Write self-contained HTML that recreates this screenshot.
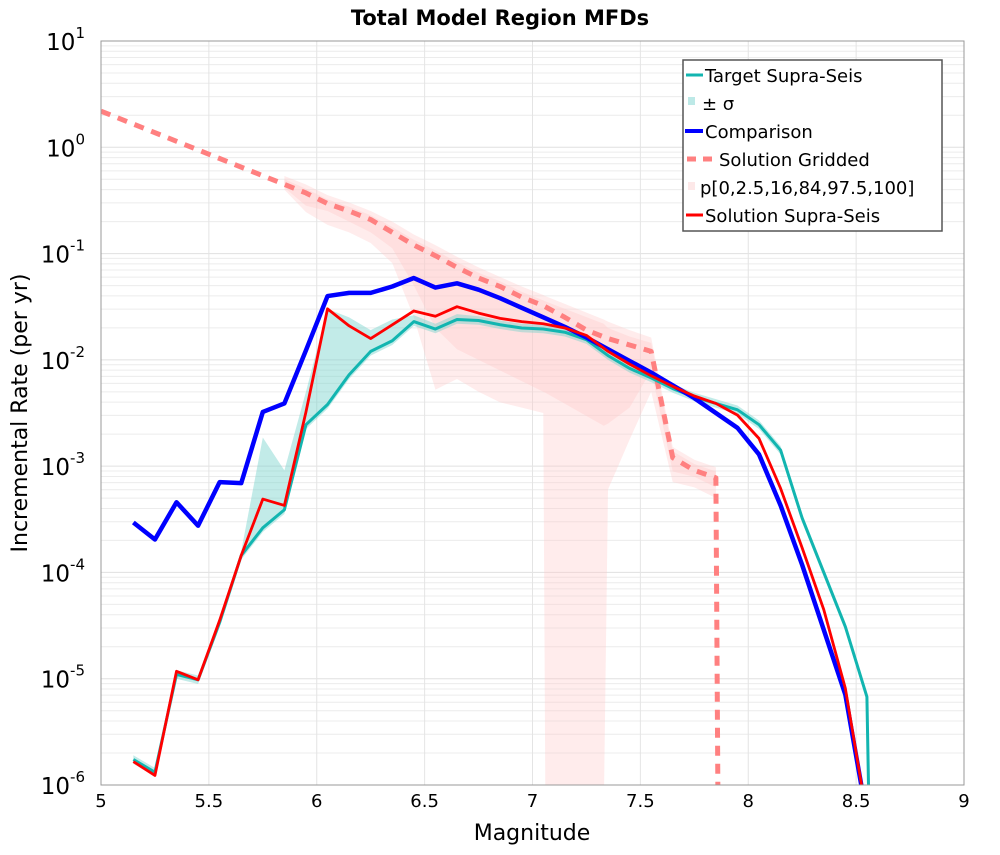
<!DOCTYPE html>
<html><head><meta charset="utf-8"><style>
body{margin:0;background:#fff;}
svg text{font-family:"DejaVu Sans","Liberation Sans",sans-serif;}
</style></head><body>
<svg id="chart" width="1000" height="850" xmlns="http://www.w3.org/2000/svg">
<rect width="1000" height="850" fill="#fff"/>
<text x="500" y="25" text-anchor="middle" font-size="21" font-weight="bold">Total Model Region MFDs</text>
<g id="grid"></g>
<g id="bands"></g>
<g id="lines"></g>
<rect x="101" y="41" width="863" height="744" fill="none" stroke="#999" stroke-width="1"/>
<g id="axes"></g>
<text x="532" y="840" text-anchor="middle" font-size="22">Magnitude</text>
<text transform="translate(27,413) rotate(-90)" text-anchor="middle" font-size="22">Incremental Rate (per yr)</text>
<g>
<rect x="683" y="60" width="259" height="171" fill="#fff" stroke="#555" stroke-width="1.5"/>
<g font-size="18">
<g><line x1="686" y1="75" x2="703" y2="75" stroke="#12b5b0" stroke-width="3"/><text x="705" y="82">Target Supra-Seis</text></g>
<g><rect x="688" y="97" width="7" height="8" fill="#bde9e7"/><text x="702" y="110">± σ</text></g>
<g><line x1="685" y1="131" x2="703" y2="131" stroke="#0000ff" stroke-width="4"/><text x="705" y="138">Comparison</text></g>
<g><line x1="687" y1="159" x2="715" y2="159" stroke="#ff8080" stroke-width="5" stroke-dasharray="9,7"/><text x="719" y="166">Solution Gridded</text></g>
<g><rect x="688" y="182" width="7" height="8" fill="#fde8e8"/><text x="700" y="194">p[0,2.5,16,84,97.5,100]</text></g>
<g><line x1="686" y1="215" x2="703" y2="215" stroke="#ff0000" stroke-width="3"/><text x="705" y="222">Solution Supra-Seis</text></g>
</g></g>
</svg>
<script>
const mags=[5.15,5.25,5.35,5.45,5.55,5.65,5.75,5.85,5.95,6.05,6.15,6.25,6.35,6.45,6.55,6.65,6.75,6.85,6.95,7.05,7.15,7.25,7.35,7.45,7.55,7.65,7.75,7.85,7.95,8.05,8.15,8.25,8.35,8.45,8.55];
const comparison=[-3.53,-3.69,-3.34,-3.56,-3.15,-3.16,-2.49,-2.41,-1.91,-1.40,-1.37,-1.37,-1.31,-1.23,-1.32,-1.28,-1.34,-1.42,-1.51,-1.60,-1.69,-1.79,-1.90,-2.01,-2.12,-2.24,-2.36,-2.50,-2.64,-2.89,-3.37,-3.93,-4.54,-5.15,-7];
const solution=[-5.78,-5.91,-4.93,-5.01,-4.45,-3.84,-3.31,-3.37,-2.49,-1.52,-1.68,-1.80,-1.67,-1.54,-1.59,-1.50,-1.56,-1.61,-1.64,-1.66,-1.70,-1.77,-1.92,-2.04,-2.15,-2.25,-2.34,-2.41,-2.52,-2.74,-3.21,-3.77,-4.35,-5.09,-7];
const target=[-5.76,-5.88,-4.96,-5.01,-4.47,-3.84,-3.58,-3.41,-2.61,-2.42,-2.14,-1.92,-1.82,-1.64,-1.71,-1.62,-1.63,-1.67,-1.70,-1.71,-1.74,-1.81,-1.96,-2.08,-2.17,-2.27,-2.35,-2.41,-2.47,-2.61,-2.85,-3.49,-4.00,-4.51,-5.17];
const sigmaHi=[-5.72,-5.84,-4.92,-4.97,-4.43,-3.80,-2.73,-3.04,-2.30,-1.52,-1.60,-1.72,-1.62,-1.58,-1.66,-1.57,-1.59,-1.63,-1.66,-1.67,-1.70,-1.77,-1.92,-2.04,-2.13,-2.23,-2.31,-2.37,-2.43,-2.57,-2.81,-3.45,-3.96,-4.47,-5.13];
const sigmaLo=[-5.80,-5.92,-5.00,-5.05,-4.51,-3.88,-3.62,-3.45,-2.65,-2.46,-2.18,-1.96,-1.86,-1.68,-1.75,-1.66,-1.67,-1.71,-1.74,-1.75,-1.78,-1.85,-2.00,-2.12,-2.21,-2.31,-2.39,-2.45,-2.51,-2.65,-2.89,-3.53,-4.04,-4.55,-5.21];
const gridMags=[5.0,5.95,6.05,6.15,6.25,6.35,6.45,6.55,6.65,6.75,6.85,6.95,7.05,7.15,7.25,7.35,7.45,7.55,7.65,7.75,7.85,7.86];
const gridded=[0.34,-0.43,-0.53,-0.60,-0.68,-0.80,-0.92,-1.02,-1.13,-1.23,-1.31,-1.41,-1.49,-1.60,-1.72,-1.80,-1.86,-1.92,-2.92,-3.04,-3.11,-7];
const pMags=[5.85,5.95,6.05,6.15,6.25,6.35,6.45,6.55,6.65,6.75,6.85,6.95,7.05,7.06,7.33,7.35,7.45,7.55,7.65,7.75,7.85];
const pMax=[-0.27,-0.35,-0.45,-0.52,-0.60,-0.70,-0.82,-0.92,-1.03,-1.13,-1.22,-1.31,-1.39,-1.40,-1.62,-1.64,-1.72,-1.79,-2.82,-2.94,-3.01];
const pMin=[-0.40,-0.61,-0.73,-0.80,-0.90,-1.09,-1.60,-2.28,-2.18,-2.30,-2.40,-2.45,-2.50,-7,-7,-3.22,-2.75,-2.30,-3.15,-3.20,-3.30];
const p97=[-0.30,-0.39,-0.49,-0.56,-0.64,-0.75,-0.87,-0.97,-1.08,-1.18,-1.26,-1.36,-1.44,-1.45,-1.66,-1.70,-1.78,-1.84,-2.86,-2.98,-3.05];
const p2=[-0.38,-0.55,-0.60,-0.70,-0.80,-0.95,-1.30,-1.70,-1.90,-2.00,-2.10,-2.20,-2.30,-2.31,-2.62,-2.60,-2.45,-2.10,-3.05,-3.10,-3.20];
const xTicks=[5,5.5,6,6.5,7,7.5,8,8.5,9];
const xTickLabels=["5","5.5","6","6.5","7","7.5","8","8.5","9"];
const yExps=[1,0,-1,-2,-3,-4,-5,-6];

const X0=101,X1=964,Y0=41,Y1=785;
const xs=m=>X0+(m-5)/4*(X1-X0);
const ys=v=>Y0+(1-Math.max(v,-6.3))/7*(Y1-Y0);
const NS="http://www.w3.org/2000/svg";
function mk(tag,attrs,parent){const e=document.createElementNS(NS,tag);for(const k in attrs)e.setAttribute(k,attrs[k]);parent.appendChild(e);return e;}
const grid=document.getElementById('grid'),bands=document.getElementById('bands'),lines=document.getElementById('lines'),axes=document.getElementById('axes');
const clip=mk('clipPath',{id:'pc'},document.getElementById('chart'));
mk('rect',{x:X0,y:Y0,width:X1-X0,height:Y1-Y0},clip);
bands.setAttribute('clip-path','url(#pc)');lines.setAttribute('clip-path','url(#pc)');
for(let e=-6;e<1;e++){for(let k=1;k<10;k++){const y=ys(e+Math.log10(k));
const l=mk('line',{x1:X0,x2:X1,y1:y,y2:y,stroke:k==1?'#e0e0e0':'#ececec','stroke-width':1},grid);

}}
xTicks.forEach((t,i)=>{const x=xs(t);
const l=mk('line',{x1:x,x2:x,y1:Y0,y2:Y1,stroke:'#e4e4e4','stroke-width':1},grid);


const tx=mk('text',{x:x,y:Y1+22,'text-anchor':'middle','font-size':18},axes);tx.textContent=xTickLabels[i];

});
yExps.forEach(e=>{const y=ys(e);
const tx=mk('text',{x:85,y:y+9,'text-anchor':'end','font-size':23},axes);


tx.appendChild(document.createTextNode('10'));
const s=mk('tspan',{dy:-12,'font-size':15},tx);s.textContent=String(e);});
function band(mx,hi,lo,fill,name){let d='';mx.forEach((m,i)=>d+=(i?'L':'M')+xs(m)+','+ys(hi[i]));
for(let i=mx.length-1;i>=0;i--)d+='L'+xs(mx[i])+','+ys(lo[i]);
const p=mk('path',{d:d+'Z',fill:fill},bands);

}
band(pMags,pMax,pMin,'rgba(255,200,200,0.35)','percentile-band-outer');
band(pMags,p97,p2,'rgba(255,200,200,0.35)','percentile-band-inner');
band(mags,sigmaHi,sigmaLo,'rgba(120,210,205,0.45)','sigma-band');
function line(mx,v,col,w,dash,name){const pts=mx.map((m,i)=>xs(m)+','+ys(v[i])).join(' ');
const p=mk('polyline',{points:pts,fill:'none',stroke:col,'stroke-width':w,'stroke-linejoin':'round'},lines);
if(dash)p.setAttribute('stroke-dasharray',dash);

}
line(gridMags,gridded,'#ff8080',5,'10,8','solution-gridded-line');
line(mags.concat([8.56]),target.concat([-7]),'#12b5b0',3,null,'target-supra-seis-line');
line(mags,comparison,'#0000ff',4.5,null,'comparison-line');
line(mags,solution,'#ff0000',2.8,null,'solution-supra-seis-line');
</script>
</body></html>
